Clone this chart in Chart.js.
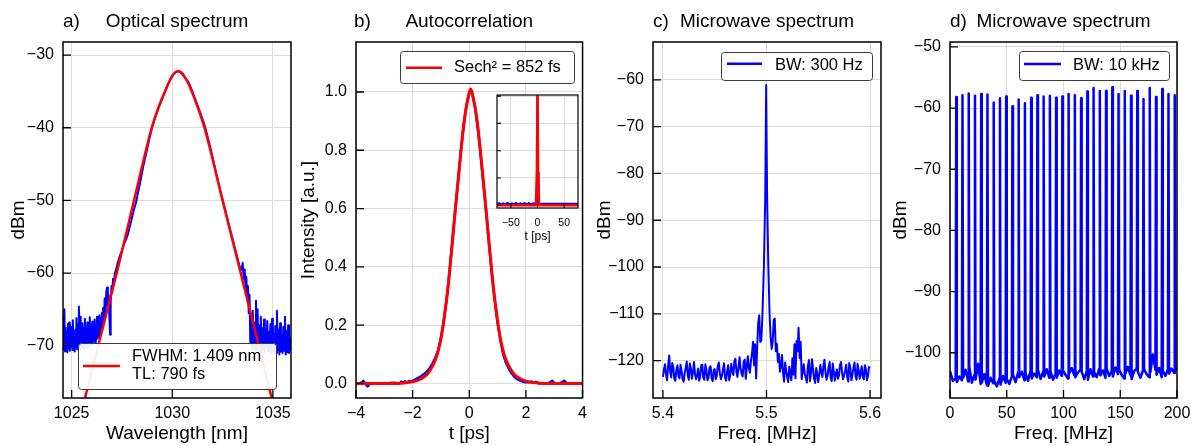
<!DOCTYPE html>
<html><head><meta charset="utf-8">
<script src="https://cdn.jsdelivr.net/npm/chart.js@4/dist/chart.umd.min.js"></script>
<style>
html,body{margin:0;padding:0;background:#fff;}
#wrap{position:relative;width:1198px;height:446px;overflow:hidden;background:#fff;}
canvas{position:absolute;top:0;}
</style></head><body>
<div id="wrap">
<canvas id="ca" width="300" height="446" style="left:0px"></canvas>
<canvas id="cb" width="297" height="446" style="left:296px"></canvas>
<canvas id="cc" width="297" height="446" style="left:593px"></canvas>
<canvas id="cd" width="308" height="446" style="left:890px"></canvas>
<canvas id="ci" width="105" height="162" style="left:480px;top:88px"></canvas>
</div>
<script>
// ---------------- data ----------------
// a) optical spectrum (measured, blue)
const optWl = [
1024.57,1024.60,1024.62,1024.64,1024.67,1024.70,1024.73,1024.76,1024.79,1024.82,
1024.85,1024.88,1024.91,1024.94,1024.97,1025.00,1025.03,1025.06,1025.09,1025.12,
1025.15,1025.18,1025.21,1025.24,1025.27,1025.30,1025.33,1025.36,1025.39,1025.42,
1025.45,1025.48,1025.51,1025.54,1025.57,1025.60,1025.63,1025.66,1025.69,1025.72,
1025.75,1025.78,1025.81,1025.84,1025.87,1025.90,1025.93,1025.96,1025.99,1026.02,
1026.05,1026.08,1026.11,1026.14,1026.17,1026.20,1026.23,1026.26,1026.29,1026.32,
1026.35,1026.38,1026.41,1026.44,1026.47,1026.50,1026.53,1026.56,1026.60,1026.64,
1026.68,1026.72,1026.76,1026.80,1026.84,1026.88,1026.91,1026.94,1026.98,1027.02,
1027.06,1027.10,1027.15,1027.20,1027.30,1027.40,1027.50,1027.60,1027.70,1027.80,
1027.90,1028.00,1028.10,1028.20,1028.30,1028.40,1028.55,1028.70,1028.85,1029.00,
1029.20,1029.40,1029.60,1029.80,1030.00,1030.15,1030.30,1030.45,1030.60,1030.80,
1031.00,1031.20,1031.40,1031.60,1031.80,1032.00,1032.20,1032.40,1032.60,1032.80,
1033.00,1033.15,1033.30,1033.40,1033.45,1033.50,1033.55,1033.60,1033.64,1033.68,
1033.72,1033.76,1033.80,1033.84,1033.88,1033.92,1033.96,1034.00,1034.04,1034.08,
1034.12,1034.16,1034.20,1034.24,1034.28,1034.32,1034.36,1034.40,1034.44,1034.48,
1034.52,1034.56,1034.60,1034.64,1034.68,1034.72,1034.76,1034.80,1034.84,1034.88,
1034.92,1034.96,1035.00,1035.04,1035.08,1035.12,1035.16,1035.20,1035.24,1035.28,
1035.32,1035.36,1035.40,1035.44,1035.48,1035.52,1035.56,1035.60,1035.64,1035.68,
1035.72,1035.76,1035.80,1035.84,1035.88,1035.92];
const optDbm = [
-69.0,-66.0,-70.5,-65.0,-70.8,-67.5,-70.2,-68.0,-70.9,-67.0,
-70.4,-66.8,-70.7,-68.3,-70.1,-67.4,-70.6,-66.5,-70.3,-68.5,
-70.8,-67.8,-70.2,-66.2,-70.5,-67.1,-70.0,-64.6,-70.4,-66.0,
-70.6,-68.2,-70.1,-66.9,-70.5,-67.6,-69.8,-66.3,-70.3,-68.4,
-69.9,-66.8,-70.4,-67.3,-69.6,-66.1,-70.0,-67.9,-69.5,-66.7,
-69.8,-67.2,-69.3,-66.4,-69.6,-67.5,-69.1,-66.0,-69.0,-67.0,
-68.8,-65.8,-68.5,-66.2,-68.0,-65.5,-67.6,-64.8,-66.5,-63.5,
-66.0,-62.6,-62.0,-64.5,-63.0,-66.5,-68.5,-64.0,-61.8,-62.5,
-60.8,-61.5,-60.0,-59.6,-58.5,-57.6,-56.9,-56.0,-55.4,-54.6,
-53.5,-52.4,-51.2,-50.3,-48.9,-47.6,-45.4,-43.6,-41.7,-39.9,
-38.2,-36.7,-35.3,-33.9,-32.8,-32.4,-32.2,-32.5,-33.0,-33.7,
-35.0,-36.5,-38.0,-39.6,-41.7,-44.0,-46.5,-48.8,-51.0,-53.2,
-55.4,-57.0,-58.6,-59.6,-59.5,-58.6,-60.8,-59.5,-62.0,-60.5,
-63.5,-61.8,-65.5,-63.0,-69.8,-66.0,-70.5,-65.2,-70.2,-66.8,
-70.6,-63.8,-70.4,-65.0,-70.8,-67.2,-70.3,-66.0,-70.9,-67.6,
-70.5,-66.4,-71.0,-67.9,-70.4,-66.6,-70.8,-68.1,-70.6,-67.0,
-71.1,-66.3,-70.7,-68.4,-70.9,-67.3,-71.0,-65.2,-70.6,-67.8,
-71.2,-66.9,-70.8,-68.6,-71.0,-67.4,-70.7,-66.0,-71.2,-68.0,
-70.9,-67.2,-71.0,-68.8,-70.6,-69.5];
// a) sech^2 fit (red)
const fitWl  = [1025.50,1026.32,1027.24,1028.10,1028.98,1029.30,1029.64,1029.90,1030.10,1030.30,
                1030.50,1030.70,1030.97,1031.28,1031.60,1032.50,1033.40,1034.30,1035.10];
const fitDbm = [-79.0,-70.0,-60.0,-50.0,-40.0,-37.3,-35.0,-33.4,-32.5,-32.2,
                -32.5,-33.4,-35.0,-37.3,-40.0,-50.0,-60.0,-70.0,-79.0];
const legendA = ['FWHM: 1.409 nm', 'TL: 790 fs'];

// b) autocorrelation (measured, blue)
const acT = [
-4.00,-3.90,-3.80,-3.74,-3.68,-3.59,-3.50,-3.30,-3.00,-2.70,
-2.45,-2.40,-2.35,-2.28,-2.20,-2.12,-2.05,-1.98,-1.90,-1.82,
-1.75,-1.68,-1.60,-1.50,-1.40,-1.30,-1.20,-1.10,-1.00,-0.90,
-0.80,-0.70,-0.60,-0.50,-0.40,-0.30,-0.20,-0.10,0.00,0.05,
0.10,0.20,0.30,0.40,0.50,0.60,0.70,0.80,0.90,1.00,
1.10,1.20,1.30,1.40,1.50,1.60,1.70,1.80,1.90,2.00,
2.10,2.20,2.28,2.35,2.45,2.60,2.80,2.93,3.00,3.20,
3.35,3.45,3.70,4.00];
const acI = [
0.001,0.000,0.003,0.009,0.000,-0.010,-0.001,0.001,0.000,0.002,
0.001,0.006,0.002,0.007,0.004,0.008,0.006,0.010,0.014,0.018,
0.022,0.026,0.032,0.040,0.052,0.068,0.088,0.112,0.158,0.218,
0.290,0.380,0.485,0.590,0.690,0.795,0.885,0.955,1.000,1.008,
0.998,0.950,0.875,0.785,0.685,0.585,0.475,0.375,0.285,0.210,
0.148,0.098,0.070,0.050,0.034,0.022,0.014,0.010,0.006,0.004,
0.004,0.006,0.002,0.005,0.001,0.000,0.001,0.009,0.001,0.000,
0.009,0.001,0.000,0.000];
// b) sech^2 fit (red)
const sechT = [-4.0,-3.0,-2.4,-2.1,-1.9,-1.7,-1.5,-1.35,-1.2,-1.05,-0.95,-0.85,-0.75,-0.65,-0.55,-0.45,-0.35,-0.25,-0.15,-0.05,
               0.05,0.15,0.25,0.35,0.45,0.55,0.65,0.75,0.85,0.95,1.05,1.15,1.3,1.45,1.6,1.8,2.0,2.2,2.5,3.0,4.0];
const sechI = [0,0,0.001,0.004,0.008,0.016,0.030,0.05,0.08,0.13,0.18,0.25,0.33,0.43,0.535,0.64,0.74,0.84,0.92,0.975,
               1.01,0.975,0.92,0.84,0.74,0.64,0.535,0.43,0.33,0.25,0.18,0.13,0.08,0.05,0.03,0.016,0.008,0.004,0.001,0,0];
const legendB = ['Sech\u00B2 = 852 fs'];
// b) inset, long range
const insetT = [-76,-72,-68,-64,-60,-56,-52,-48,-44,-40,-36,-32,-28,-24,-20,-16,-12,-8,-4,-2,
                -1,0,1,2,4,10,20,30,40,50,60,70,76];
const insetI = [0.012,0.020,0.008,0.018,0.010,0.022,0.009,0.016,0.011,0.021,0.008,0.017,0.012,0.019,0.009,0.020,0.010,0.018,0.012,0.015,
                0.3,1.0,0.3,0.015,0.013,0.013,0.014,0.013,0.014,0.013,0.014,0.013,0.013];
const insetFitT = [-76,-3,-1.2,0,1.2,3,76];
const insetFitI = [0,0,0.3,1.0,0.3,0,0];

// c) microwave spectrum, RBW 300 Hz
const mwFreqC = [
5.400,5.401,5.402,5.403,5.404,5.405,5.406,5.407,5.408,5.409,
5.410,5.411,5.412,5.413,5.414,5.415,5.416,5.417,5.418,5.419,
5.420,5.421,5.422,5.423,5.424,5.425,5.426,5.427,5.428,5.429,
5.430,5.431,5.432,5.433,5.434,5.435,5.436,5.437,5.438,5.439,
5.440,5.441,5.442,5.443,5.444,5.445,5.446,5.447,5.448,5.449,
5.450,5.451,5.452,5.453,5.454,5.455,5.456,5.457,5.458,5.459,
5.460,5.461,5.462,5.463,5.464,5.465,5.466,5.467,5.468,5.469,
5.470,5.471,5.472,5.473,5.474,5.475,5.476,5.477,5.478,5.479,
5.480,5.481,5.482,5.483,5.484,5.485,5.486,5.487,5.488,5.489,
5.490,5.491,5.492,5.493,5.494,5.495,5.496,5.4975,5.4988,5.4997,
5.5006,5.5018,5.503,5.504,5.505,5.506,5.507,5.508,5.509,5.510,
5.511,5.512,5.513,5.514,5.515,5.516,5.517,5.518,5.519,5.520,
5.521,5.522,5.523,5.524,5.525,5.526,5.527,5.528,5.529,5.530,
5.531,5.532,5.533,5.534,5.535,5.536,5.537,5.538,5.539,5.540,
5.541,5.542,5.543,5.544,5.545,5.546,5.547,5.548,5.549,5.550,
5.551,5.552,5.553,5.554,5.555,5.556,5.557,5.558,5.559,5.560,
5.561,5.562,5.563,5.564,5.565,5.566,5.567,5.568,5.569,5.570,
5.571,5.572,5.573,5.574,5.575,5.576,5.577,5.578,5.579,5.580,
5.581,5.582,5.583,5.584,5.585,5.586,5.587,5.588,5.589,5.590,
5.591,5.592,5.593,5.594,5.595,5.596,5.597,5.598,5.599,5.600];
const mwDbmC = [
-123.5,-121.9,-120.8,-123.0,-124.2,-121.2,-118.9,-122.4,-123.6,-120.5,
-121.4,-123.9,-124.3,-122.0,-121.0,-123.3,-123.8,-120.9,-122.2,-124.0,
-124.5,-122.6,-121.5,-120.2,-123.2,-124.1,-120.6,-121.8,-123.9,-122.5,
-120.3,-122.9,-124.0,-123.1,-121.7,-124.3,-123.4,-121.0,-120.9,-123.7,
-124.1,-120.8,-122.0,-124.2,-123.7,-121.5,-121.2,-123.8,-124.4,-122.1,
-121.8,-124.0,-123.3,-121.1,-120.4,-122.8,-124.0,-123.2,-121.9,-120.6,
-123.6,-124.3,-122.3,-121.0,-124.2,-123.0,-120.7,-122.2,-123.1,-120.1,
-119.6,-122.5,-123.5,-121.4,-119.3,-121.8,-122.8,-123.4,-120.2,-119.8,
-123.9,-121.3,-119.1,-121.6,-122.6,-120.0,-118.5,-116.0,-121.0,-116.5,
-123.8,-117.2,-112.0,-110.3,-116.0,-115.8,-110.8,-100.0,-85.0,-61.1,
-85.0,-100.0,-110.2,-115.0,-117.5,-116.0,-111.3,-111.0,-118.0,-116.4,
-120.3,-118.6,-122.4,-121.0,-118.8,-122.7,-124.5,-120.4,-122.1,-123.5,
-124.6,-121.3,-122.9,-124.2,-119.5,-123.0,-116.5,-123.8,-115.8,-118.0,
-113.0,-119.5,-116.0,-124.0,-122.2,-120.8,-122.9,-123.6,-124.7,-121.2,
-119.9,-124.4,-122.7,-119.7,-121.9,-123.9,-124.8,-121.6,-122.9,-124.6,
-123.0,-120.9,-122.4,-123.5,-121.1,-119.8,-122.6,-124.1,-123.2,-121.4,
-120.3,-123.7,-124.4,-120.6,-122.3,-124.3,-122.8,-121.9,-123.9,-123.2,
-121.0,-120.3,-122.7,-124.0,-123.1,-122.1,-120.9,-123.6,-124.5,-120.5,
-121.7,-124.2,-123.0,-121.5,-120.4,-123.4,-124.1,-120.7,-122.0,-123.9,
-122.6,-121.2,-123.5,-124.0,-121.0,-121.8,-124.2,-123.3,-121.4,-121.6];
const legendC = ['BW: 300 Hz'];

// d) microwave spectrum, RBW 10 kHz (comb lines + floor)
const combFreq = [
0,2.5,5.0,
5.5,6.0,8.25,10.5, 11.0,11.5,13.75,16.0, 16.5,17.0,19.25,21.5, 22.0,22.5,24.75,27.0,
27.5,28.0,30.25,32.5, 33.0,33.5,35.75,38.0, 38.5,39.0,41.25,43.5, 44.0,44.5,46.75,49.0,
49.5,50.0,52.25,54.5, 55.0,55.5,57.75,60.0, 60.5,61.0,63.25,65.5, 66.0,66.5,68.75,71.0,
71.5,72.0,74.25,76.5, 77.0,77.5,79.75,82.0, 82.5,83.0,85.25,87.5, 88.0,88.5,90.75,93.0,
93.5,94.0,96.25,98.5, 99.0,99.5,101.75,104.0, 104.5,105.0,107.25,109.5, 110.0,110.5,112.75,115.0,
115.5,116.0,118.25,120.5, 121.0,121.5,123.75,126.0, 126.5,127.0,129.25,131.5, 132.0,132.5,134.75,137.0,
137.5,138.0,140.25,142.5, 143.0,143.5,145.75,148.0, 148.5,149.0,151.25,153.5, 154.0,154.5,156.75,159.0,
159.5,160.0,162.25,164.5, 165.0,165.5,167.75,170.0, 170.5,171.0,173.25,175.5, 176.0,176.5,178.75,181.0,
181.5,182.0,184.25,186.5, 187.0,187.5,189.75,192.0, 192.5,193.0,195.25,197.5,
198.0,198.5,200.0];
const combDbm = [
-103.0,-104.6,-104.2,
-58.2,-104.8,-103.9,-104.5, -57.9,-104.1,-102.8,-104.7, -57.6,-102.3,-104.9,-103.6, -58.0,-104.4,-101.8,-105.1,
-57.7,-104.9,-103.5,-105.3, -57.8,-105.4,-104.1,-105.0, -59.1,-104.6,-105.5,-104.2, -58.4,-105.2,-103.8,-104.9,
-58.1,-104.3,-105.1,-103.9, -59.7,-103.6,-104.8,-103.2, -58.6,-104.0,-103.1,-104.5, -59.2,-103.3,-104.6,-102.9,
-58.3,-104.2,-103.4,-104.0, -57.9,-102.8,-104.3,-103.1, -58.1,-103.9,-102.7,-104.1, -58.0,-103.0,-104.4,-103.5,
-58.3,-104.1,-102.9,-103.8, -58.1,-102.9,-103.6,-104.2, -57.7,-103.4,-102.5,-103.7, -57.9,-104.0,-103.2,-102.8,
-58.4,-103.1,-104.3,-103.0, -57.3,-104.4,-102.7,-103.9, -56.7,-103.2,-104.0,-102.6, -57.2,-103.7,-102.9,-104.1,
-57.2,-102.6,-103.8,-103.0, -56.6,-103.9,-102.4,-103.5, -57.7,-102.8,-103.6,-104.2, -57.2,-103.4,-102.3,-103.7,
-58.0,-104.3,-103.0,-102.6, -57.2,-103.1,-104.1,-102.9, -58.5,-102.7,-103.5,-104.0, -56.7,-103.2,-100.3,-102.8,
-58.2,-103.6,-102.5,-104.0, -56.9,-102.9,-103.8,-102.7, -57.7,-103.4,-102.6,-103.3,
-57.9,-102.9,-102.5];
const legendD = ['BW: 10 kHz'];

// tick values
const wlTicks = [1025,1030,1035], dbmTicksA = [-70,-60,-50,-40,-30];
const tTicks = [-4,-2,0,2,4], intTicks = [0,0.2,0.4,0.6,0.8,1.0];
const insetTTicks = [-50,0,50], insetITicks = [0,0.25,0.5,0.75,1.0];
const freqTicksC = [5.4,5.5,5.6], dbmTicksC = [-120,-110,-100,-90,-80,-70,-60];
const freqTicksD = [0,50,100,150,200], dbmTicksD = [-100,-90,-80,-70,-60,-50];

// ---------------- drawing ----------------
const FONT = "'Liberation Sans', Arial, Helvetica, sans-serif";
Chart.defaults.font.family = FONT;
Chart.defaults.color = '#000';
const GRID = '#dcdcdc', BLUE = '#0000ff', RED = '#ff0000';

function fmt(v, dec){ const s = Math.abs(v).toFixed(dec); return (v < -1e-9 ? '\u2212' : '') + s; }
function pts(xs, ys){ return xs.map((x,i)=>({x:x, y:ys[i]})); }

const framePlugin = {
  id:'frame',
  beforeDraw(chart, args, o){
    if (!o || !o.bg) return;
    const a = chart.chartArea, ctx = chart.ctx;
    ctx.save(); ctx.fillStyle = '#fff'; ctx.fillRect(a.left, a.top, a.right-a.left, a.bottom-a.top); ctx.restore();
  },
  afterDatasetsDraw(chart, args, o){
    if (!o || !o.on) return;
    const ctx = chart.ctx, a = chart.chartArea, xs = chart.scales.x, ys = chart.scales.y;
    const L = o.tickLen;
    ctx.save();
    ctx.strokeStyle = '#000'; ctx.lineWidth = o.tickW;
    ctx.beginPath();
    xs.ticks.forEach(t=>{ const p = xs.getPixelForValue(t.value); ctx.moveTo(p, a.bottom); ctx.lineTo(p, a.bottom - L); });
    ys.ticks.forEach(t=>{ const p = ys.getPixelForValue(t.value); ctx.moveTo(a.left, p); ctx.lineTo(a.left + L, p); });
    ctx.stroke();
    ctx.lineWidth = o.frameW;
    ctx.strokeRect(a.left, a.top, a.right - a.left, a.bottom - a.top);
    ctx.restore();
  }
};
const boxLegend = {
  id:'boxLegend',
  afterDraw(chart, args, o){
    if (!o || !o.texts) return;
    const ctx = chart.ctx, a = chart.chartArea;
    const x = Math.round(a.left + o.x) + 0.5, y = Math.round(a.top + o.y) + 0.5;
    ctx.save();
    ctx.fillStyle = 'rgba(255,255,255,0.92)';
    ctx.strokeStyle = '#3a3a3a'; ctx.lineWidth = 1;
    ctx.beginPath();
    if (ctx.roundRect) ctx.roundRect(x, y, o.w, o.h, 3); else ctx.rect(x, y, o.w, o.h);
    ctx.fill(); ctx.stroke();
    ctx.strokeStyle = o.color; ctx.lineWidth = o.lw;
    ctx.beginPath(); ctx.moveTo(a.left + o.sx0, a.top + o.sy); ctx.lineTo(a.left + o.sx1, a.top + o.sy); ctx.stroke();
    ctx.fillStyle = '#000'; ctx.font = '16.5px ' + FONT; ctx.textBaseline = 'middle'; ctx.textAlign = 'left';
    o.texts.forEach((t,i)=> ctx.fillText(t, a.left + o.tx, a.top + o.ty[i]));
    ctx.restore();
  }
};
const letterPlugin = {
  id:'letter',
  afterDraw(chart, args, o){
    if (!o || !o.text) return;
    const ctx = chart.ctx;
    ctx.save(); ctx.fillStyle = '#000'; ctx.font = '19px ' + FONT; ctx.textBaseline = 'middle'; ctx.textAlign = 'left';
    ctx.fillText(o.text, chart.chartArea.left + (o.dx || 0), o.y);
    ctx.restore();
  }
};
Chart.register(framePlugin, boxLegend, letterPlugin);

function xAxis(c){ return {
  type:'linear', position:'bottom', min:c.min, max:c.max,
  afterBuildTicks: s=>{ s.ticks = c.ticks.map(v=>({value:v})); },
  afterFit: s=>{ s.height = c.h; },
  grid:{ color:GRID, lineWidth:1, drawTicks:false },
  border:{ display:false },
  ticks:{ font:{size:c.fs || 16}, padding:c.pad, maxRotation:0, minRotation:0, autoSkip:false, color:'#000',
          callback:v=>fmt(v, c.dec) },
  title:{ display:true, text:c.title, color:'#000', font:{size:c.tfs || 19, lineHeight:1}, padding:{top:0, bottom:c.tpad} }
};}
function yAxis(c){ return {
  type:'linear', position:'left', min:c.min, max:c.max,
  afterBuildTicks: s=>{ s.ticks = c.ticks.map(v=>({value:v})); },
  afterFit: s=>{ s.width = c.w; },
  grid:{ color:GRID, lineWidth:1, drawTicks:false },
  border:{ display:false },
  ticks:{ display:c.show !== false, font:{size:16}, padding:9, autoSkip:false, color:'#000',
          callback:v=>fmt(v, c.dec) },
  title:{ display:!!c.title, text:c.title, color:'#000', font:{size:19, lineHeight:1}, padding:{top:c.tpad || 0, bottom:0} }
};}
function titleOpt(text){ return { display:true, text:text, fullSize:false, color:'#000',
  font:{size:19, weight:'normal', lineHeight:1.2}, padding:{top:10, bottom:9.2} }; }
function common(pluginsExtra){
  return Object.assign({ legend:{display:false}, tooltip:{enabled:false},
    frame:{on:true, tickLen:8, tickW:1.3, frameW:1.5} }, pluginsExtra);
}
function line(xs, ys, color, w, order, smooth){
  return { data:pts(xs, ys), borderColor:color, borderWidth:w, pointRadius:0, fill:false, order:order,
           borderJoinStyle:'round',
           tension: smooth ? 0.4 : 0, cubicInterpolationMode: smooth ? 'monotone' : 'default' };
}
function make(id, datasets, x, y, padR, plugins, padTop){
  return new Chart(document.getElementById(id), {
    type:'line',
    data:{ datasets:datasets },
    options:{
      responsive:false, animation:false, devicePixelRatio:1,
      layout:{ padding:{ left:0, right:padR, top:padTop || 0, bottom:0 } },
      scales:{ x:x, y:y },
      plugins:plugins
    }
  });
}

// a) Optical spectrum
make('ca',
  [ line(fitWl, fitDbm, RED, 2.5, 0, true), line(optWl, optDbm, BLUE, 2, 1, false) ],
  xAxis({min:1024.57, max:1035.9, ticks:wlTicks, dec:0, title:'Wavelength [nm]', h:48, pad:6, tpad:2.8}),
  yAxis({min:-77.2, max:-28.2, ticks:dbmTicksA, dec:0, title:'dBm', w:63, tpad:9}),
  9,
  common({ title:titleOpt('Optical spectrum'), letter:{text:'a)', y:21.4},
    boxLegend:{ x:15, y:301, w:198, h:46, sx0:20, sx1:57, sy:324, tx:69, ty:[314,332], texts:legendA, color:RED, lw:2.5 } })
);
// b) Autocorrelation
make('cb',
  [ line(sechT, sechI, RED, 3, 0, true), line(acT, acI, BLUE, 2.5, 1, false) ],
  xAxis({min:-4, max:4, ticks:tTicks, dec:0, title:'t [ps]', h:48, pad:6, tpad:2.8}),
  yAxis({min:-0.05, max:1.1715, ticks:intTicks, dec:1, title:'Intensity [a.u.]', w:60, tpad:3}),
  10,
  common({ title:titleOpt('Autocorrelation'), letter:{text:'b)', y:21.4, dx:-2},
    boxLegend:{ x:44, y:9, w:174, h:32, sx0:50, sx1:86, sy:25.7, tx:98, ty:[25], texts:legendB, color:RED, lw:2.5 } })
);
// c) Microwave spectrum 300 Hz
make('cc',
  [ line(mwFreqC, mwDbmC, BLUE, 2, 0, false) ],
  xAxis({min:5.3904, max:5.6106, ticks:freqTicksC, dec:1, title:'Freq. [MHz]', h:48, pad:6, tpad:2.8}),
  yAxis({min:-128, max:-51.9, ticks:dbmTicksC, dec:0, title:'dBm', w:60, tpad:2.5}),
  9,
  common({ title:titleOpt('Microwave spectrum'), letter:{text:'c)', y:21.4},
    boxLegend:{ x:68, y:10, w:151, h:28, sx0:74, sx1:109, sy:21.8, tx:122, ty:[23], texts:legendC, color:BLUE, lw:2.5 } })
);
// d) Microwave spectrum 10 kHz
make('cd',
  [ line(combFreq, combDbm, BLUE, 2.5, 0, false) ],
  xAxis({min:0, max:200, ticks:freqTicksD, dec:0, title:'Freq. [MHz]', h:48, pad:6, tpad:2.8}),
  yAxis({min:-107.4, max:-49.2, ticks:dbmTicksD, dec:0, title:'dBm', w:60, tpad:1.5}),
  21,
  common({ title:titleOpt('Microwave spectrum'), letter:{text:'d)', y:21.4},
    boxLegend:{ x:69, y:9, w:150, h:29, sx0:74, sx1:111, sy:22, tx:123, ty:[23], texts:legendD, color:BLUE, lw:2.5 } })
);
// b) inset
make('ci',
  [ line(insetFitT, insetFitI, RED, 2.5, 0, false), line(insetT, insetI, BLUE, 2, 1, false) ],
  xAxis({min:-76, max:76, ticks:insetTTicks, dec:0, title:'t [ps]', h:42, pad:8.7, tpad:7, fs:10.5, tfs:12}),
  yAxis({min:-0.025, max:1.01, ticks:insetITicks, dec:2, title:'', w:17, show:false}),
  7,
  { legend:{display:false}, tooltip:{enabled:false}, frame:{on:true, bg:true, tickLen:4, tickW:1.1, frameW:1.2} },
  7
);
</script>
</body></html>
